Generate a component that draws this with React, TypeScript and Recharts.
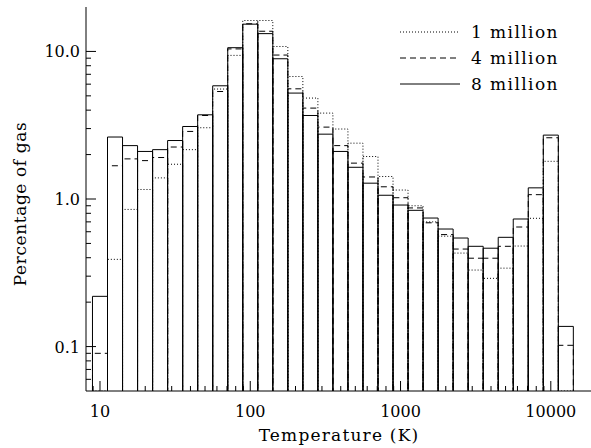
import { ComposedChart, Legend, Line, XAxis, YAxis } from "recharts";

const FONT = "DejaVu Serif";

// bin centres as log10(T / K); each bin is 0.1 dex wide
const BIN_LOG_T = [
  1.0, 1.1, 1.2, 1.3, 1.4, 1.5, 1.6, 1.7, 1.8, 1.9, 2.0, 2.1, 2.2, 2.3, 2.4, 2.5,
  2.6, 2.7, 2.8, 2.9, 3.0, 3.1, 3.2, 3.3, 3.4, 3.5, 3.6, 3.7, 3.8, 3.9, 4.0, 4.1,
];
const BIN_HALF_DEX = 0.05;

// percentage of gas per bin (null = below the plot floor)
const PCT_1M = [
  null, 0.39, 0.85, 1.16, 1.39, 1.72, 2.16, 3.04, 5.56, 9.4, 16.2, 16.2, 10.8, 6.76, 4.83, 3.82,
  2.98, 2.39, 1.94, 1.42, 1.15, 0.9, 0.7, 0.56, 0.43, 0.33, 0.29, 0.34, 0.48, 0.74, 1.8, null,
];
const PCT_4M = [
  0.09, 1.68, 1.87, 1.82, 1.91, 2.25, 2.87, 3.68, 5.35, 10.4, 15.4, 13.7, 9.45, 5.58, 4.13, 3.07,
  2.3, 1.75, 1.41, 1.21, 1.02, 0.87, 0.69, 0.574, 0.458, 0.397, 0.397, 0.478, 0.646, 1.07, 2.6, 0.102,
];
const PCT_8M = [
  0.219, 2.63, 2.3, 2.1, 2.16, 2.49, 3.1, 3.72, 5.85, 10.6, 15.3, 13.2, 8.92, 5.22, 3.68, 2.75,
  2.1, 1.64, 1.28, 1.06, 0.91, 0.838, 0.743, 0.626, 0.544, 0.478, 0.464, 0.55, 0.732, 1.19, 2.71, 0.137,
];

const X_DOMAIN: [number, number] = [8.07, 18800];
const Y_DOMAIN: [number, number] = [0.05, 20];

const X_MAJOR = [10, 100, 1000, 10000];
const X_MINOR = [
  9, 20, 30, 40, 50, 60, 70, 80, 90, 200, 300, 400, 500, 600, 700, 800, 900,
  2000, 3000, 4000, 5000, 6000, 7000, 8000, 9000,
];
const Y_MAJOR = [0.1, 1, 10];
const Y_MINOR = [
  0.06, 0.07, 0.08, 0.09, 0.2, 0.3, 0.4, 0.5, 0.6, 0.7, 0.8, 0.9, 2, 3, 4, 5, 6, 7, 8, 9,
];
const X_TICKS = [...X_MAJOR, ...X_MINOR].sort((a, b) => a - b);
const Y_TICKS = [...Y_MAJOR, ...Y_MINOR].sort((a, b) => a - b);

const SERIES = [
  { name: "1 million", values: PCT_1M, dash: "1 2" },
  { name: "4 million", values: PCT_4M, dash: "6 4" },
  { name: "8 million", values: PCT_8M, dash: undefined },
];

// each bin drawn as an open box: up the left edge, across, down to the floor
function outline(values: (number | null)[]) {
  const floor = Y_DOMAIN[0];
  const pts: { t: number; pct: number }[] = [];
  BIN_LOG_T.forEach((lt, i) => {
    const lo = 10 ** (lt - BIN_HALF_DEX);
    const hi = 10 ** (lt + BIN_HALF_DEX);
    const v = values[i] ?? floor;
    pts.push({ t: lo, pct: floor }, { t: lo, pct: v }, { t: hi, pct: v }, { t: hi, pct: floor });
  });
  return pts;
}

const MAJOR_LEN = 10;
const MINOR_LEN = 5;
const textStyle = { fontFamily: FONT, fontSize: 16, fill: "#000" };
const titleStyle = { ...textStyle, fontSize: 17, letterSpacing: 1.2 };

function BottomTick({ x, y, payload }: any) {
  const major = X_MAJOR.includes(payload.value);
  return (
    <g>
      <line x1={x} x2={x} y1={y} y2={y - (major ? MAJOR_LEN : MINOR_LEN)} stroke="#000" />
      {major ? (
        <text x={x} y={y + 26} textAnchor="middle" style={textStyle}>
          {payload.value}
        </text>
      ) : null}
    </g>
  );
}

function TopTick({ x, y, payload }: any) {
  const major = X_MAJOR.includes(payload.value);
  return <line x1={x} x2={x} y1={y} y2={y + (major ? MAJOR_LEN : MINOR_LEN)} stroke="#000" />;
}

function LeftTick({ x, y, payload }: any) {
  const major = Y_MAJOR.includes(payload.value);
  return (
    <g>
      <line x1={x} x2={x + (major ? MAJOR_LEN : MINOR_LEN)} y1={y} y2={y} stroke="#000" />
      {major ? (
        <text x={x - 6} y={y + 6} textAnchor="end" style={textStyle}>
          {payload.value.toFixed(1)}
        </text>
      ) : null}
    </g>
  );
}

function RightTick({ x, y, payload }: any) {
  const major = Y_MAJOR.includes(payload.value);
  return <line x1={x} x2={x - (major ? MAJOR_LEN : MINOR_LEN)} y1={y} y2={y} stroke="#000" />;
}

function YLabel({ viewBox }: any) {
  const cx = viewBox.x + 26;
  const cy = viewBox.y + viewBox.height / 2 + 5;
  return (
    <text
      x={cx}
      y={cy}
      transform={`rotate(-90 ${cx} ${cy})`}
      textAnchor="middle"
      style={{ ...titleStyle, letterSpacing: 0.6 }}
    >
      Percentage of gas
    </text>
  );
}

function LegendBox() {
  return (
    <svg width={196} height={80} style={{ display: "block" }}>
      {SERIES.map((s, i) => {
        const y = 17 + i * 26;
        return (
          <g key={s.name}>
            <line x1={5} x2={65} y1={y} y2={y} stroke="#000" strokeDasharray={s.dash} />
            <text x={76} y={y + 5.5} style={{ ...titleStyle, letterSpacing: 1.4 }}>
              {s.name}
            </text>
          </g>
        );
      })}
    </svg>
  );
}

export default function App() {
  return (
    <div>
      <style>{"body{margin:0;overflow:hidden;background:#fff}"}</style>
      <ComposedChart width={593} height={448} margin={{ top: 7, right: 1, bottom: 0, left: 0 }}>
        <XAxis
          dataKey="t"
          type="number"
          scale="log"
          domain={X_DOMAIN}
          allowDataOverflow
          ticks={X_TICKS}
          interval={0}
          tick={BottomTick}
          tickLine={false}
          tickSize={0}
          tickMargin={0}
          height={57}
          axisLine={{ stroke: "#000" }}
          label={{ value: "Temperature (K)", position: "insideBottom", offset: 7, style: titleStyle }}
        />
        <XAxis
          xAxisId="top"
          orientation="top"
          dataKey="t"
          type="number"
          scale="log"
          domain={X_DOMAIN}
          allowDataOverflow
          ticks={X_TICKS}
          interval={0}
          tick={TopTick}
          tickLine={false}
          tickSize={0}
          tickMargin={0}
          height={0}
          axisLine={{ stroke: "#000" }}
        />
        <YAxis
          type="number"
          scale="log"
          domain={Y_DOMAIN}
          allowDataOverflow
          ticks={Y_TICKS}
          interval={0}
          tick={LeftTick}
          tickLine={false}
          tickSize={0}
          tickMargin={0}
          width={86}
          axisLine={{ stroke: "#000" }}
          label={YLabel}
        />
        <YAxis
          yAxisId="right"
          orientation="right"
          type="number"
          scale="log"
          domain={Y_DOMAIN}
          allowDataOverflow
          ticks={Y_TICKS}
          interval={0}
          tick={RightTick}
          tickLine={false}
          tickSize={0}
          tickMargin={0}
          width={0}
          axisLine={false}
        />
        {SERIES.map((s) => (
          <Line
            key={s.name}
            name={s.name}
            data={outline(s.values)}
            dataKey="pct"
            type="linear"
            stroke="#000"
            strokeWidth={1}
            strokeDasharray={s.dash}
            dot={false}
            activeDot={false}
            isAnimationActive={false}
          />
        ))}
        <Legend
          layout="vertical"
          align="center"
          verticalAlign="middle"
          wrapperStyle={{ top: 15, left: 395, width: 196 }}
          content={LegendBox}
        />
      </ComposedChart>
    </div>
  );
}
